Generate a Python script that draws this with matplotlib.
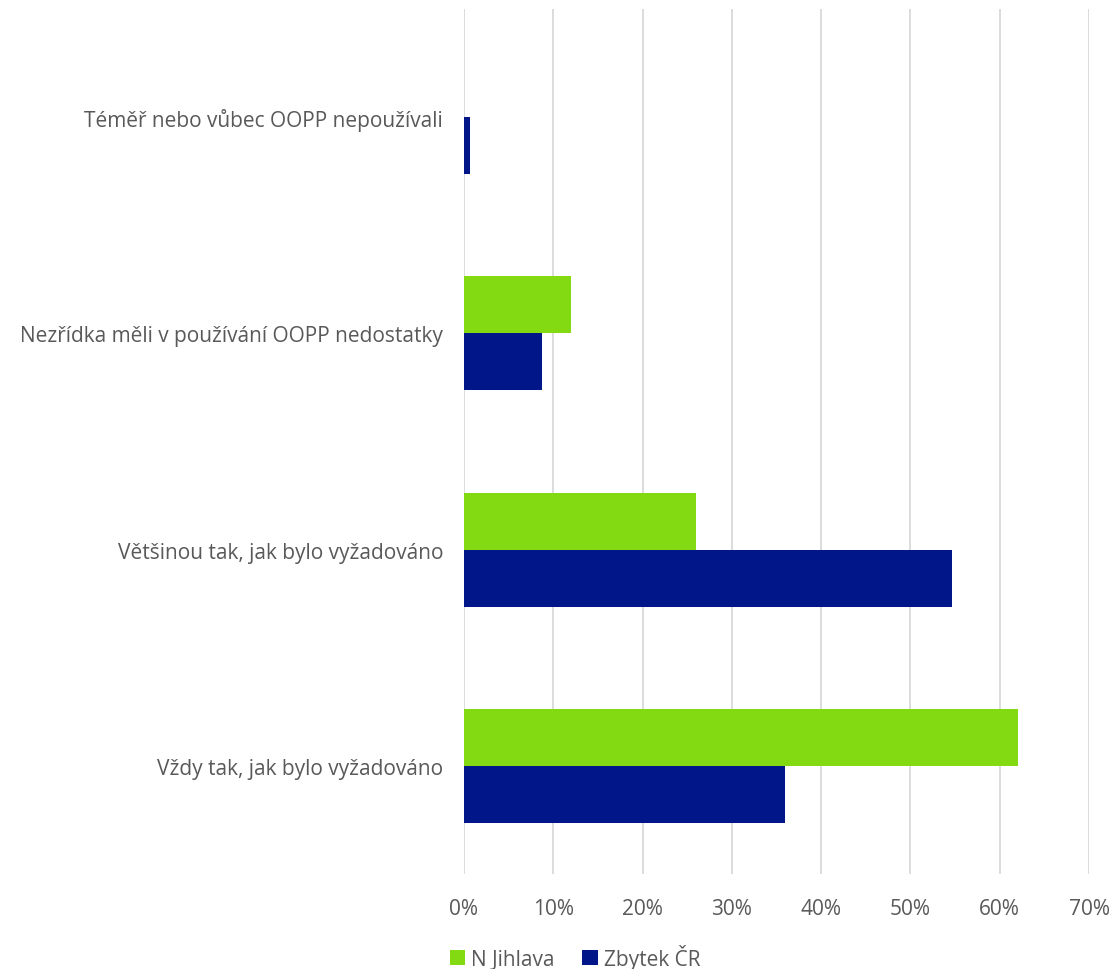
import matplotlib
matplotlib.use("Agg")
import matplotlib.pyplot as plt
from matplotlib.ticker import FuncFormatter

categories = ["Vždy tak, jak bylo vyžadováno",
              "Většinou tak, jak bylo vyžadováno",
              "Nezřídka měli v používání OOPP nedostatky",
              "Téměř nebo vůbec OOPP nepoužívali"]
series_names = ["N Jihlava", "Zbytek ČR"]
n_jihlava = [62.0, 26.0, 12.0, 0.0]
zbytek_cr = [35.9, 54.6, 8.7, 0.7]
x_ticks = [0, 10, 20, 30, 40, 50, 60, 70]

green = "#84DA12"
navy = "#001689"
text_col = "#595959"

plt.rcParams['font.family'] = ['Open Sans', 'DejaVu Sans']

fig = plt.figure(figsize=(11.14, 9.70), dpi=100)
ax = fig.add_axes([464/1114, 1-875/970, (1089-464)/1114, (875-10)/970])

h = 0.264
y = list(range(len(categories)))
ax.barh([i + h/2 for i in y], n_jihlava, height=h, color=green, label=series_names[0], zorder=3)
ax.barh([i - h/2 for i in y], zbytek_cr, height=h, color=navy, label=series_names[1], zorder=3)

ax.set_xlim(0, 70)
ax.set_ylim(-0.5, 3.5)
ax.set_xticks(x_ticks)
ax.xaxis.set_major_formatter(FuncFormatter(lambda v, p: f"{int(v)}%"))
ax.set_yticks(y)
ax.set_yticklabels(categories)
ax.grid(axis='x', color="#D9D9D9", linewidth=1.3, zorder=0)
for s in ax.spines.values():
    s.set_visible(False)
ax.tick_params(axis='both', length=0, labelsize=15, colors=text_col)
ax.tick_params(axis='x', pad=17)
ax.tick_params(axis='y', pad=15)

leg = fig.legend(loc='center', bbox_to_anchor=(575/1114, 1-958/970), ncol=2, frameon=False,
                 fontsize=15, handlelength=0.75, handleheight=0.75, handletextpad=0.3,
                 columnspacing=1.3)
for t in leg.get_texts():
    t.set_color(text_col)

fig.savefig("out.png", dpi=100)
